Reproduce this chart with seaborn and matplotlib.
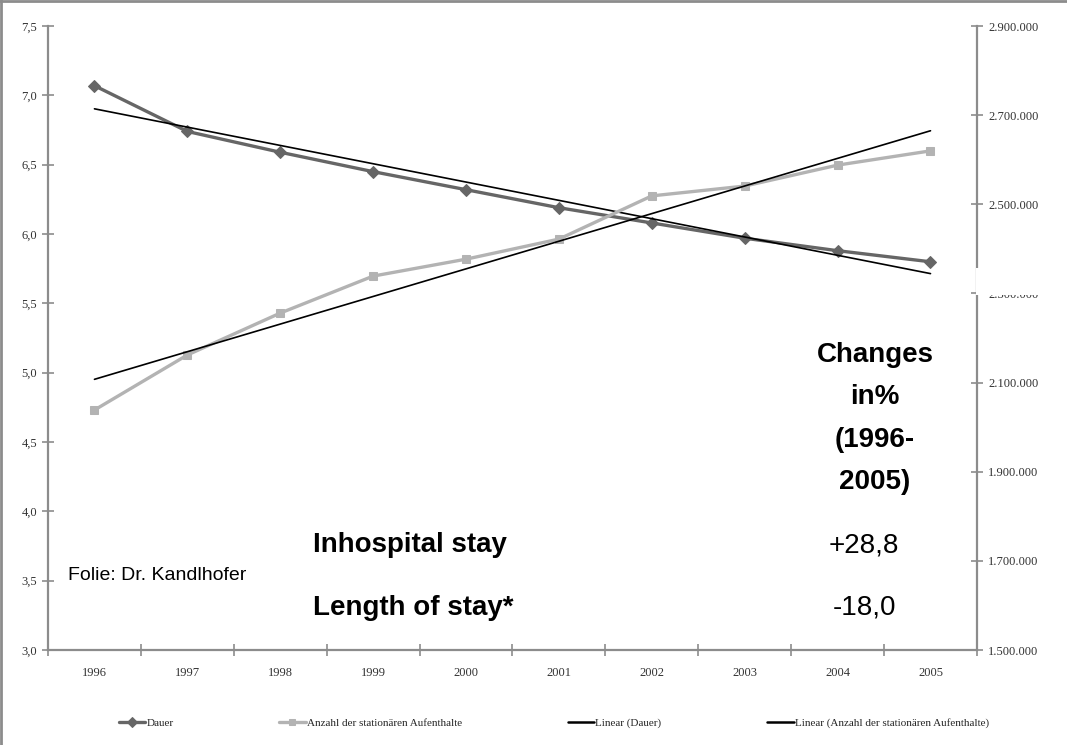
import numpy as np
import pandas as pd
import matplotlib
matplotlib.use("Agg")
import matplotlib.pyplot as plt
import matplotlib.ticker as mticker
from matplotlib.patches import Rectangle
from matplotlib.lines import Line2D
import seaborn as sns

# data
years = [1996, 1997, 1998, 1999, 2000, 2001, 2002, 2003, 2004, 2005]
dauer = [7.07, 6.74, 6.59, 6.45, 6.32, 6.19, 6.08, 5.97, 5.88, 5.80]
anzahl = [2038500, 2162000, 2256000, 2339000, 2377000, 2422000, 2519000, 2541000, 2588000, 2620000]

df = pd.DataFrame({"Jahr": years, "Dauer": dauer, "Anzahl": anzahl})

sns.set_style("white")
plt.rcParams["font.family"] = ["Liberation Sans", "DejaVu Sans"]

fig = plt.figure(figsize=(10.67, 7.45), dpi=100)
ax = fig.add_axes([0.045, 0.1275, 0.8706, 0.8375])
ax2 = ax.twinx()

dark = "#666666"
light = "#b3b3b3"

sns.lineplot(data=df, x="Jahr", y="Dauer", ax=ax, color=dark, lw=2.4,
             marker="D", markersize=6, markeredgecolor=dark, label="Dauer", legend=False)
sns.lineplot(data=df, x="Jahr", y="Anzahl", ax=ax2, color=light, lw=2.4,
             marker="s", markersize=6, markeredgecolor=light,
             label="Anzahl der stationären Aufenthalte", legend=False)

# trend lines
sns.regplot(data=df, x="Jahr", y="Dauer", ax=ax, scatter=False, ci=None,
            color="black", line_kws={"lw": 1.2})
sns.regplot(data=df, x="Jahr", y="Anzahl", ax=ax2, scatter=False, ci=None,
            color="black", line_kws={"lw": 1.2})

ax.set_xlim(1995.5, 2005.5)
ax.set_ylim(3.0, 7.5)
ax2.set_ylim(1500000, 2900000)
ax.set_xlabel("")
ax.set_ylabel("")
ax2.set_ylabel("")

ax.set_xticks(years)
ax.set_xticks(np.arange(1995.5, 2006, 1), minor=True)
ax.set_yticks(np.arange(3.0, 7.51, 0.5))
ax.yaxis.set_major_formatter(mticker.FuncFormatter(lambda v, p: f"{v:.1f}".replace(".", ",")))
ax2.set_yticks(np.arange(1500000, 2900001, 200000))
ax2.yaxis.set_major_formatter(mticker.FuncFormatter(lambda v, p: f"{v:,.0f}".replace(",", ".")))

spine_c = "#8c8c8c"
for a in (ax, ax2):
    for s in a.spines.values():
        s.set_visible(False)
ax.spines["left"].set_visible(True)
ax.spines["bottom"].set_visible(True)
ax2.spines["right"].set_visible(True)
for s in ("left", "bottom"):
    ax.spines[s].set_color(spine_c)
    ax.spines[s].set_linewidth(1.6)
ax2.spines["right"].set_color(spine_c)
ax2.spines["right"].set_linewidth(1.6)

ax.tick_params(axis="y", which="major", direction="inout", length=8, width=1.2,
               color=spine_c, labelsize=9, labelcolor="#333333", left=True, pad=4)
ax.tick_params(axis="x", which="major", length=0, labelsize=9, labelcolor="#333333", pad=12)
ax.tick_params(axis="x", which="minor", direction="inout", length=8, width=1.2,
               color=spine_c, bottom=True)
ax2.tick_params(axis="y", direction="inout", length=8, width=1.2, color=spine_c,
                labelsize=9, labelcolor="#333333", right=True, pad=4)
for lab in ax.get_xticklabels() + ax.get_yticklabels() + ax2.get_yticklabels():
    lab.set_fontfamily("Liberation Serif")

# white patch covering part of right axis label, as in the source slide
fig.patches.append(Rectangle((975.5 / 1067, 1 - 295 / 745), 80 / 1067, 27 / 745,
                             transform=fig.transFigure, facecolor="white",
                             edgecolor="none", zorder=10))

# slide frame (left and top only)
fig.add_artist(Line2D([0.001, 0.001], [0, 1], transform=fig.transFigure, color="#8c8c8c", lw=2))
fig.add_artist(Line2D([0, 1], [0.999, 0.999], transform=fig.transFigure, color="#8c8c8c", lw=2))

# annotations
big = dict(fontsize=20, fontweight="bold", color="black")
fig.text(0.82, 0.5235, "Changes", ha="center", va="center", **big)
fig.text(0.82, 0.467, "in%", ha="center", va="center", **big)
fig.text(0.82, 0.409, "(1996-", ha="center", va="center", **big)
fig.text(0.82, 0.353, "2005)", ha="center", va="center", **big)
fig.text(0.293, 0.268, "Inhospital stay", ha="left", va="center", **big)
fig.text(0.293, 0.184, "Length of stay*", ha="left", va="center", **big)
fig.text(0.81, 0.268, "+28,8", ha="center", va="center", fontsize=20, color="black")
fig.text(0.81, 0.184, "-18,0", ha="center", va="center", fontsize=20, color="black")
fig.text(0.064, 0.227, "Folie: Dr. Kandlhofer", ha="left", va="center", fontsize=14, color="black")

# legend
h1, l1 = ax.get_legend_handles_labels()
h2, l2 = ax2.get_legend_handles_labels()
trend1 = Line2D([], [], color="black", lw=1.8)
trend2 = Line2D([], [], color="black", lw=1.8)
handles = [h1[0], h2[0], trend1, trend2]
labels = ["Dauer", "Anzahl der stationären Aufenthalte", "Linear (Dauer)",
          "Linear (Anzahl der stationären Aufenthalte)"]
fig.legend(handles, labels, loc="center", bbox_to_anchor=(0.519, 0.029), ncol=4,
           frameon=False, prop={"family": "Liberation Serif", "size": 8},
           columnspacing=9.5, handlelength=2.4, handletextpad=0.1, markerscale=0.8)

fig.savefig("out.png", dpi=100)
